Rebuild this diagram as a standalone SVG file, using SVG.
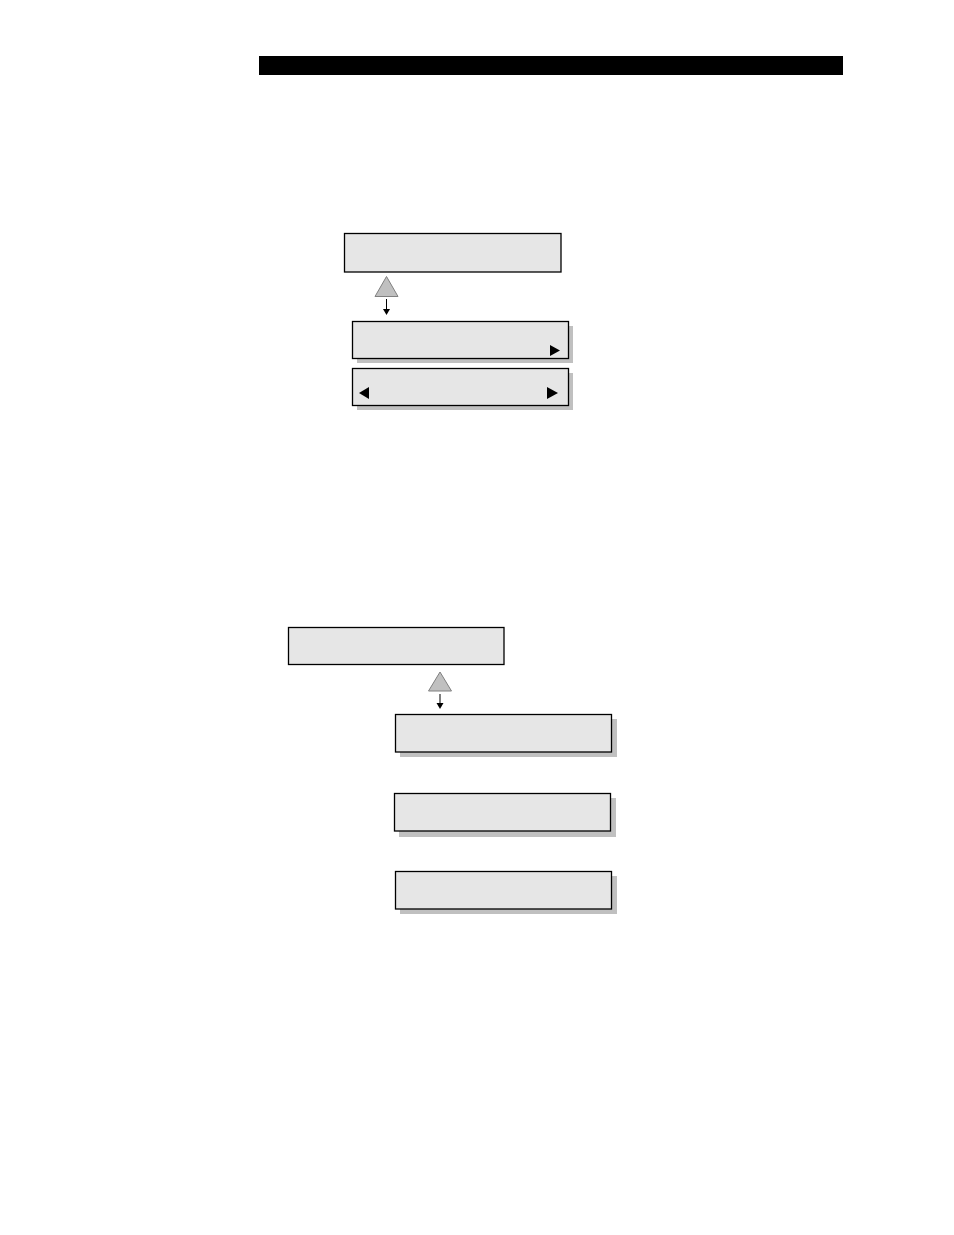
<svg xmlns="http://www.w3.org/2000/svg" width="954" height="1235" viewBox="0 0 954 1235">
<style>
.box{fill:#e6e6e6;stroke:#000;stroke-width:1.3}
.shadow{fill:#c0c0c0}
.tri{fill:#c0c0c0;stroke:#808080;stroke-width:1}
.conn{stroke:#000;stroke-width:1;fill:none}
.blk{fill:#000}
</style>
<rect x="259" y="56" width="584" height="19" fill="#000"/>
<g id="node1"><rect class="box" x="344.5" y="233.5" width="216.5" height="38.5"/></g>
<g id="tri1"><polygon class="tri" points="386.5,276.5 375,296.5 398,296.5"/></g>
<g id="node2"><rect class="shadow" x="357" y="326" width="216" height="37"/><rect class="box" x="352.5" y="321.5" width="216" height="37"/><polygon class="blk" points="550,345 560,350.5 550,356"/></g>
<g id="node3"><rect class="shadow" x="357" y="373" width="216" height="37"/><rect class="box" x="352.5" y="368.5" width="216" height="37"/><polygon class="blk" points="369,387 359,393 369,399"/><polygon class="blk" points="547,387 558,393 547,399"/></g>
<g id="node4"><rect class="box" x="288.5" y="627.5" width="215.5" height="37"/></g>
<g id="tri2"><polygon class="tri" points="440,672 428.5,691 451.5,691"/></g>
<g id="node5"><rect class="shadow" x="400" y="719" width="217" height="38"/><rect class="box" x="395.5" y="714.5" width="216" height="37.5"/></g>
<g id="node6"><rect class="shadow" x="399" y="798" width="217" height="39"/><rect class="box" x="394.5" y="793.5" width="216" height="37.5"/></g>
<g id="node7"><rect class="shadow" x="400" y="876" width="217" height="38"/><rect class="box" x="395.5" y="871.5" width="216" height="37.5"/></g>
<g id="connectors">
<line class="conn" x1="386.5" y1="299" x2="386.5" y2="310"/>
<polygon class="blk" points="383,309 390,309 386.5,315"/>
<line class="conn" x1="440" y1="694" x2="440" y2="704"/>
<polygon class="blk" points="436.5,703 443.5,703 440,709"/>
</g>
</svg>
